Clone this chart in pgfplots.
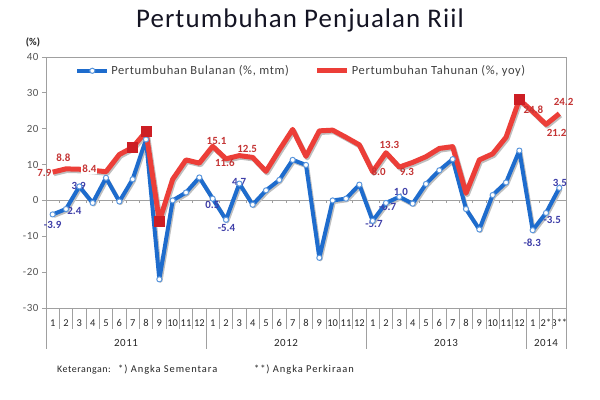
\documentclass[border=0pt]{standalone}
\usepackage{fontspec}
\setmainfont{Carlito}
\newfontfamily\wfont[LetterSpace=5]{Carlito}
\newfontfamily\ffont[LetterSpace=9]{Carlito}
\newfontfamily\tfont[LetterSpace=4]{Carlito}
\usepackage{pgfplots}
\usepackage{pgfplotstable}
\pgfplotsset{compat=1.18}
\definecolor{myblue}{RGB}{30,108,205}
\definecolor{mkblue}{RGB}{90,150,220}
\definecolor{myred}{RGB}{236,62,56}
\definecolor{sqred}{RGB}{205,30,36}
\definecolor{lblblue}{RGB}{62,62,168}
\definecolor{lblred}{RGB}{196,52,52}
\definecolor{axgray}{RGB}{160,160,160}
\definecolor{tickgray}{RGB}{85,85,85}
\definecolor{titlec}{RGB}{20,20,35}

\pgfplotstableread{
x mtm
0 -3.9
1 -2.4
2 3.9
3 -0.7
4 6.3
5 -0.3
6 5.9
7 17.0
8 -22.0
9 0.0
10 2.2
11 6.4
12 0.5
13 -5.4
14 4.7
15 -1.2
16 2.8
17 5.7
18 11.3
19 9.9
20 -16.0
21 0.0
22 0.5
23 4.4
24 -5.7
25 -0.7
26 1.0
27 -0.9
28 4.6
29 8.4
30 11.5
31 -2.4
32 -8.1
33 1.5
34 5.0
35 13.9
36 -8.3
37 -3.5
38 3.5
}\mtm

\pgfplotstableread{
x yoy
0 7.9
1 8.8
2 8.7
3 8.4
4 8.0
5 12.8
6 14.8
7 19.2
8 -5.8
9 5.9
10 11.3
11 10.4
12 15.1
13 11.6
14 12.5
15 12.0
16 8.1
17 14.1
18 19.8
19 12.3
20 19.4
21 19.6
22 17.6
23 15.5
24 8.0
25 13.3
26 9.3
27 10.6
28 12.2
29 14.5
30 15.0
31 2.0
32 11.3
33 13.0
34 17.6
35 28.1
36 24.8
37 21.2
38 24.2
}\yoy

\pgfplotstableread{
x yoy
6 14.8
7 19.2
8 -5.8
35 28.1
}\yoysq

\begin{document}
\begin{tikzpicture}
\path[use as bounding box] (-46bp,-92bp) rectangle (554bp,308bp);
\begin{axis}[
  at={(0,0)}, anchor=south west,
  scale only axis, width=520bp, height=251bp,
  xmin=-0.5, xmax=38.5, ymin=-30, ymax=40,
  clip=false,
  axis line style={axgray, line width=0.8bp},
  ytick={-30,-20,...,40},
  ytick pos=left,
  ytick align=outside,
  major tick length=4bp,
  ytick style={axgray, line width=0.8bp},
  yticklabel style={font=\wfont\fontsize{11}{11}\selectfont, text=tickgray},
  /pgf/number format/assume math mode=true,
  xtick={0,...,38},
  xticklabels={1,2,3,4,5,6,7,8,9,10,11,12,1,2,3,4,5,6,7,8,9,10,11,12,1,2,3,4,5,6,7,8,9,10,11,12,1,2*,3**},
  xtick style={draw=none},
  xticklabel style={font=\fontsize{10.5}{10.5}\selectfont, text=black!85, anchor=base, yshift=-18bp, inner sep=0pt},
  legend columns=2,
  legend style={at={(0.056,0.975)}, anchor=north west, draw=none, fill=none,
    font=\wfont\fontsize{12.5}{12.5}\selectfont, text=black!75, inner sep=0pt,
    /tikz/every even column/.append style={column sep=24bp}},
  legend cell align=left,
  legend image code/.code={\draw[mark repeat=2, mark phase=2, #1] plot coordinates {(0bp,0bp) (15bp,0bp) (30bp,0bp)};},
]
% zero line and small ticks
\draw[axgray, line width=0.8bp] (axis cs:-0.5,0) -- (axis cs:38.5,0);
\pgfplotsinvokeforeach{-0.5,0.5,...,38.5}{
  \draw[axgray, line width=0.6bp] (axis cs:#1,0) -- ([yshift=-3bp]axis cs:#1,0);
  \draw[axgray, line width=0.8bp] (axis cs:#1,-30) -- ([yshift=-21bp]axis cs:#1,-30);
}
\pgfplotsinvokeforeach{-0.5,11.5,23.5,35.5,38.5}{
  \draw[axgray, line width=0.8bp] (axis cs:#1,-30) -- ([yshift=-41bp]axis cs:#1,-30);
}
\begin{scope}[every node/.style={font=\wfont\fontsize{11}{11}\selectfont, text=black!85}]
\node at ([yshift=-34.5bp]axis cs:5.5,-30) {2011};
\node at ([yshift=-34.5bp]axis cs:17.5,-30) {2012};
\node at ([yshift=-34.5bp]axis cs:29.5,-30) {2013};
\node at ([yshift=-34.5bp]axis cs:37,-30) {2014};
\end{scope}

% shadows
\addplot[forget plot, black!25, line width=4bp, line join=round, transform canvas={xshift=1.2bp,yshift=-1.6bp}] table[x=x,y=mtm] {\mtm};
% blue series
\addplot[myblue, line width=4bp, line join=round, mark=*, mark size=2.6bp, mark options={fill=white, draw=mkblue, line width=1bp}] table[x=x,y=mtm] {\mtm};
\addlegendentry{Pertumbuhan Bulanan (\%, mtm)}
\addplot[forget plot, black!25, line width=5bp, line join=round, transform canvas={xshift=1.2bp,yshift=-1.6bp}] table[x=x,y=yoy] {\yoy};
\addplot[myred, line width=5bp, line join=round] table[x=x,y=yoy] {\yoy};
\addlegendentry{Pertumbuhan Tahunan (\%, yoy)}
\addplot[forget plot, only marks, mark=square*, mark size=5bp, mark options={fill=sqred, draw=sqred}] table[x=x,y=yoy] {\yoysq};

% red labels
\begin{scope}[every node/.style={font=\bfseries\fontsize{11}{11}\selectfont, text=lblred, inner sep=0pt}]
\node at (axis cs:-0.62,7.8) {7.9};
\node at (axis cs:0.8,11.9) {8.8};
\node[fill=white, inner sep=1bp] at (axis cs:2.76,8.7) {8.4};
\node at (axis cs:12.29,16.7) {15.1};
\node at (axis cs:12.91,10.5) {11.6};
\node at (axis cs:14.59,14.4) {12.5};
\node at (axis cs:24.44,7.9) {8.0};
\node at (axis cs:25.26,15.5) {13.3};
\node at (axis cs:26.57,8.0) {9.3};
\node at (axis cs:36.05,25.2) {24.8};
\node at (axis cs:37.8,18.9) {21.2};
\node at (axis cs:38.32,27.6) {24.2};
\end{scope}
% blue labels
\begin{scope}[every node/.style={font=\bfseries\fontsize{11}{11}\selectfont, text=lblblue, inner sep=0pt}]
\node at (axis cs:0,-6.8) {-3.9};
\node at (axis cs:1.5,-2.9) {-2.4};
\node at (axis cs:1.95,4.1) {3.9};
\node at (axis cs:11.98,-1.3) {0.5};
\node at (axis cs:13.04,-7.6) {-5.4};
\node at (axis cs:13.98,5.24) {4.7};
\node at (axis cs:24.1,-6.55) {-5.7};
\node at (axis cs:25.11,-1.72) {-0.7};
\node at (axis cs:26.12,2.45) {1.0};
\node at (axis cs:35.97,-11.7) {-8.3};
\node at (axis cs:37.47,-5.44) {-3.5};
\node at (axis cs:38.04,4.99) {3.5};
\end{scope}
\end{axis}
\node[font=\tfont\fontsize{27}{27}\selectfont, text=titlec] at (254bp,288bp) {Pertumbuhan Penjualan Riil};
\node[font=\bfseries\fontsize{10.5}{10.5}\selectfont, text=black!85] at (-13bp,266bp) {(\%)};
\node[anchor=west, font=\wfont\fontsize{10}{10}\selectfont, text=black!85, inner sep=0pt] at (11bp,-62bp) {Keterangan:};
\begin{scope}[every node/.style={anchor=west, font=\ffont\fontsize{10.5}{10.5}\selectfont, text=black!85, inner sep=0pt}]
\node at (72bp,-62bp) {*) Angka Sementara};
\node at (208bp,-62bp) {**) Angka Perkiraan};
\end{scope}
\end{tikzpicture}
\end{document}
